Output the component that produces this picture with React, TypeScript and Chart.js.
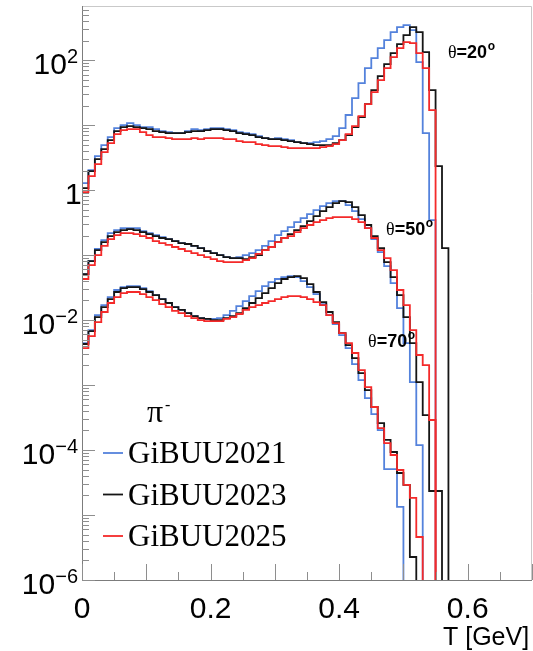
import React, { useEffect, useRef } from "react";
import { Chart, registerables } from "chart.js";

Chart.register(...registerables);

// ---- axis / binning -------------------------------------------------------
const BIN_WIDTH_GEV = 0.01;
const X_MIN = 0;
const X_MAX = 0.7;
const Y_MIN = 1e-6;
const Y_MAX = 680;
const EMPTY_BIN = 1e-12; // empty bin (zero content), falls below the log axis

const X_TICK_VALUES = [0, 0.2, 0.4, 0.6];
const X_TICK_LABELS = ["0", "0.2", "0.4", "0.6"];
const Y_LABEL_EXPONENTS = [2, 0, -2, -4, -6];
const X_TITLE = "T [GeV]";
const PARTICLE = "π";

const MODEL_NAMES = ["GiBUU2021", "GiBUU2023", "GiBUU2025"];
const ANGLES = ["20", "50", "70"];

// ---- theta = 20 deg --------------------------------------------------------
const gibuu2021_theta20 = [
  0.70, 1.28, 2.03, 3.34, 4.92, 6.54, 8.99, 10.0, 10.7, 10.0,
  9.31, 9.31, 8.67, 8.09, 7.80, 7.53, 7.53, 8.09, 8.67, 8.38,
  8.67, 8.99, 8.99, 8.67, 8.38, 7.80, 7.53, 7.27, 6.77, 6.31,
  6.09, 6.31, 6.09, 5.88, 5.48, 5.28, 5.28, 5.48, 5.67, 6.09,
  6.77, 8.99, 14.3, 26.0, 44.3, 75.3, 107, 153, 203, 270,
  322, 345, 289, 93.1, 7.53, 0.345,
];
const gibuu2023_theta20 = [
  0.567, 1.07, 1.96, 3.0, 4.27, 5.88, 8.09, 9.31, 9.66, 9.31,
  8.99, 8.67, 8.09, 7.80, 7.53, 7.53, 7.53, 7.80, 8.09, 8.09,
  8.38, 8.67, 8.67, 8.38, 8.09, 7.53, 7.27, 7.02, 6.54, 6.31,
  6.09, 6.09, 5.88, 5.67, 5.48, 5.28, 5.10, 4.92, 4.92, 4.92,
  5.28, 5.88, 7.02, 9.31, 13.3, 21.0, 34.5, 56.7, 86.7, 128,
  176, 242, 322, 270, 133, 34.5, 2.34, 0.128,
];
const gibuu2025_theta20 = [
  0.475, 0.932, 1.64, 2.51, 3.84, 5.28, 7.27, 8.38, 8.67, 8.67,
  7.80, 7.02, 6.54, 6.54, 6.31, 6.09, 6.09, 6.09, 6.31, 6.09,
  6.31, 6.31, 6.31, 6.09, 6.09, 5.67, 5.48, 5.48, 5.10, 4.92,
  4.75, 4.75, 4.59, 4.43, 4.43, 4.43, 4.43, 4.43, 4.59, 4.75,
  5.10, 5.88, 7.27, 9.66, 13.7, 21.0, 32.2, 49.2, 75.3, 111,
  153, 189, 183, 128, 75.3, 17.0,
];

// ---- theta = 50 deg --------------------------------------------------------
const gibuu2021_theta50 = [
  0.0322, 0.0510, 0.0809, 0.124, 0.170, 0.218, 0.242, 0.260, 0.260, 0.260,
  0.234, 0.218, 0.203, 0.189, 0.176, 0.164, 0.153, 0.148, 0.138, 0.128,
  0.115, 0.107, 0.100, 0.0932, 0.0899, 0.0932, 0.100, 0.107, 0.119, 0.138,
  0.164, 0.203, 0.234, 0.270, 0.322, 0.371, 0.427, 0.492, 0.567, 0.631,
  0.677, 0.677, 0.588, 0.475, 0.358, 0.260, 0.176, 0.111, 0.0677, 0.0371,
  0.0153, 0.00443, 0.00111, 0.000119,
];
const gibuu2023_theta50 = [
  0.0311, 0.0510, 0.0809, 0.119, 0.158, 0.196, 0.226, 0.242, 0.251, 0.242,
  0.226, 0.210, 0.196, 0.183, 0.176, 0.164, 0.153, 0.148, 0.138, 0.128,
  0.115, 0.107, 0.100, 0.0932, 0.0899, 0.0899, 0.0868, 0.0932, 0.100, 0.119,
  0.133, 0.158, 0.183, 0.210, 0.242, 0.279, 0.333, 0.398, 0.475, 0.548,
  0.631, 0.677, 0.653, 0.548, 0.413, 0.290, 0.196, 0.128, 0.0780, 0.0459,
  0.0242, 0.0111, 0.00443, 0.00111, 0.000345, 0.0000234, 0.0000234,
];
const gibuu2025_theta50 = [
  0.0251, 0.0428, 0.0702, 0.100, 0.138, 0.176, 0.203, 0.218, 0.218, 0.210,
  0.196, 0.183, 0.164, 0.153, 0.143, 0.133, 0.124, 0.115, 0.107, 0.100,
  0.0932, 0.0868, 0.0809, 0.0780, 0.0780, 0.0780, 0.0838, 0.0899, 0.104, 0.119,
  0.133, 0.158, 0.183, 0.196, 0.226, 0.260, 0.290, 0.322, 0.345, 0.371,
  0.384, 0.384, 0.384, 0.358, 0.322, 0.260, 0.183, 0.119, 0.0899, 0.0588,
  0.0290, 0.0170, 0.00702, 0.00290, 0.00203, 0.000290,
];

// ---- theta = 70 deg --------------------------------------------------------
const gibuu2021_theta70 = [
  0.00203, 0.00443, 0.00702, 0.0119, 0.0170, 0.0226, 0.0290, 0.0322, 0.0333, 0.0333,
  0.0311, 0.0279, 0.0242, 0.0210, 0.0183, 0.0158, 0.0143, 0.0128, 0.0115, 0.0107,
  0.0104, 0.0104, 0.0107, 0.0119, 0.0138, 0.0164, 0.0196, 0.0234, 0.0279, 0.0333,
  0.0384, 0.0428, 0.0459, 0.0475, 0.0459, 0.0398, 0.0322, 0.0251, 0.0176, 0.0119,
  0.00868, 0.00588, 0.00371, 0.00210, 0.00119, 0.000631, 0.000358, 0.000203, 0.0000510, 0.0000510,
  0.0000133,
];
const gibuu2023_theta70 = [
  0.00164, 0.00428, 0.00677, 0.0111, 0.0158, 0.0210, 0.0270, 0.0311, 0.0322, 0.0322,
  0.0300, 0.0270, 0.0242, 0.0210, 0.0183, 0.0158, 0.0143, 0.0128, 0.0115, 0.0107,
  0.0104, 0.0100, 0.0100, 0.0107, 0.0115, 0.0128, 0.0153, 0.0183, 0.0218, 0.0260,
  0.0311, 0.0371, 0.0428, 0.0459, 0.0475, 0.0443, 0.0358, 0.0270, 0.0189, 0.0133,
  0.00932, 0.00631, 0.00412, 0.00260, 0.00153, 0.000838, 0.000459, 0.000260, 0.000143, 0.0000932,
  0.0000443, 0.0000290, 0.00000226,
];
const gibuu2025_theta70 = [
  0.00153, 0.00371, 0.00567, 0.00932, 0.0133, 0.0183, 0.0226, 0.0260, 0.0270, 0.0270,
  0.0251, 0.0226, 0.0203, 0.0176, 0.0158, 0.0138, 0.0128, 0.0115, 0.0107, 0.0100,
  0.00966, 0.00966, 0.00966, 0.0104, 0.0111, 0.0124, 0.0143, 0.0158, 0.0170, 0.0183,
  0.0196, 0.0210, 0.0226, 0.0234, 0.0234, 0.0226, 0.0210, 0.0189, 0.0170, 0.0119,
  0.00899, 0.00631, 0.00443, 0.00311, 0.00170, 0.000932, 0.000459, 0.000218, 0.000128, 0.0000838,
  0.0000493, 0.0000290, 0.0000183, 0.00000459,
];

const HISTOGRAMS = [
  [gibuu2021_theta20, gibuu2023_theta20, gibuu2025_theta20],
  [gibuu2021_theta50, gibuu2023_theta50, gibuu2025_theta50],
  [gibuu2021_theta70, gibuu2023_theta70, gibuu2025_theta70],
];

// ---- styles / annotation placement (data units) ----------------------------
const MODEL_COLORS = ["#5482dc", "#151515", "#f42a2a"];
const MODEL_DRAW_ORDER = [2, 1, 0]; // red on top
const LINE_WIDTH = 1.8;
const ANGLE_LABEL_POS = [
  { x: 0.5693, y: 107 },
  { x: 0.4729, y: 0.203 },
  { x: 0.4449, y: 0.00385 },
];

const SANS = "'Liberation Sans', Arial, Helvetica, sans-serif";
const SERIF = "'Liberation Serif', 'Times New Roman', serif";

function histogramPoints(values: number[]) {
  const pts = values.map((v, i) => ({ x: i * BIN_WIDTH_GEV, y: v }));
  pts.push({ x: values.length * BIN_WIDTH_GEV, y: EMPTY_BIN });
  return pts;
}

const rootStylePlugin = {
  id: "rootStyle",
  afterDraw(chart: any) {
    const { ctx, chartArea: a, scales } = chart;
    const xs = scales.x;
    const ys = scales.y;
    ctx.save();

    // frame (top / right)
    ctx.lineWidth = 1;
    ctx.strokeStyle = "#c9c9c9";
    ctx.beginPath();
    ctx.moveTo(a.left, a.top + 0.5);
    ctx.lineTo(a.right - 0.5, a.top + 0.5);
    ctx.lineTo(a.right - 0.5, a.bottom);
    ctx.stroke();

    // axes
    ctx.strokeStyle = "#7c7c7c";
    ctx.beginPath();
    ctx.moveTo(a.left + 0.5, a.top);
    ctx.lineTo(a.left + 0.5, a.bottom + 0.5);
    ctx.lineTo(a.right, a.bottom + 0.5);
    ctx.stroke();

    // ticks
    ctx.strokeStyle = "#8e8e8e";
    ctx.beginPath();
    for (let e = -6; e <= 2; e++) {
      for (let m = 1; m <= 9; m++) {
        const v = m * Math.pow(10, e);
        if (v > ys.max) break;
        const py = Math.round(ys.getPixelForValue(v)) + 0.5;
        const len = m === 1 ? 13 : 7;
        ctx.moveTo(a.left, py);
        ctx.lineTo(a.left + len, py);
      }
    }
    for (let k = 0; k * 0.05 <= X_MAX + 1e-9; k++) {
      const px = Math.round(xs.getPixelForValue(k * 0.05)) + 0.5;
      const len = k % 2 === 0 ? 16 : 8;
      ctx.moveTo(px, a.bottom);
      ctx.lineTo(px, a.bottom - len);
    }
    ctx.stroke();

    // y labels
    ctx.fillStyle = "#000";
    ctx.textBaseline = "alphabetic";
    const right = a.left - 4;
    for (const e of Y_LABEL_EXPONENTS) {
      const base = ys.getPixelForValue(Math.pow(10, e)) + 14;
      if (e === 0) {
        ctx.font = `30px ${SANS}`;
        ctx.textAlign = "left";
        ctx.fillText("1", right - 13, base);
      } else {
        const sup = e < 0 ? "\u2212" + Math.abs(e) : String(e);
        ctx.font = `20px ${SANS}`;
        ctx.textAlign = "right";
        ctx.fillText(sup, right, base - 11);
        const w = ctx.measureText(sup).width;
        ctx.font = `30px ${SANS}`;
        ctx.fillText("10", right - w, base);
      }
    }

    // x labels
    ctx.font = `30px ${SANS}`;
    ctx.textAlign = "center";
    X_TICK_VALUES.forEach((v, i) => {
      ctx.fillText(X_TICK_LABELS[i], xs.getPixelForValue(v), a.bottom + 38);
    });
    ctx.font = `25px ${SANS}`;
    ctx.textAlign = "left";
    ctx.fillText(X_TITLE, 443, 645);

    // angle labels
    ANGLES.forEach((ang, i) => {
      const px = xs.getPixelForValue(ANGLE_LABEL_POS[i].x);
      const py = ys.getPixelForValue(ANGLE_LABEL_POS[i].y);
      ctx.textAlign = "left";
      ctx.font = `18px ${SERIF}`;
      ctx.fillText("θ", px, py);
      const w1 = ctx.measureText("θ").width;
      ctx.font = `bold 18px ${SANS}`;
      const txt = "=" + ang;
      ctx.fillText(txt, px + w1, py);
      const w2 = ctx.measureText(txt).width;
      ctx.font = `bold 12px ${SANS}`;
      ctx.fillText("o", px + w1 + w2 + 0.5, py - 8);
    });

    // legend
    ctx.textAlign = "left";
    ctx.font = `32px ${SERIF}`;
    ctx.fillText(PARTICLE, 147, 422);
    ctx.font = `16px ${SERIF}`;
    ctx.fillText("-", 165, 410);
    MODEL_NAMES.forEach((name, i) => {
      const base = 463 + i * 41.5;
      ctx.strokeStyle = MODEL_COLORS[i];
      ctx.lineWidth = LINE_WIDTH;
      ctx.beginPath();
      ctx.moveTo(103, base - 10);
      ctx.lineTo(123, base - 10);
      ctx.stroke();
      ctx.font = `31px ${SERIF}`;
      ctx.fillStyle = "#000";
      ctx.fillText(name, 128, base);
    });

    ctx.restore();
  },
};

export default function App() {
  const canvasRef = useRef<HTMLCanvasElement | null>(null);

  useEffect(() => {
    const canvas = canvasRef.current;
    if (!canvas) return;
    const datasets: any[] = [];
    HISTOGRAMS.forEach((group, a) => {
      group.forEach((values, m) => {
        datasets.push({
          label: `${MODEL_NAMES[m]} θ=${ANGLES[a]}°`,
          data: histogramPoints(values),
          stepped: "after",
          borderColor: MODEL_COLORS[m],
          borderWidth: LINE_WIDTH,
          pointRadius: 0,
          fill: false,
          tension: 0,
          order: MODEL_DRAW_ORDER[m],
        });
      });
    });
    const chart = new Chart(canvas, {
      type: "line",
      data: { datasets },
      options: {
        animation: false,
        responsive: false,
        devicePixelRatio: 1,
        layout: { padding: { left: 82, right: 1, top: 6, bottom: 71 } },
        scales: {
          x: { type: "linear", min: X_MIN, max: X_MAX, display: false },
          y: { type: "logarithmic", min: Y_MIN, max: Y_MAX, display: false },
        },
        plugins: { legend: { display: false }, tooltip: { enabled: false } },
        elements: { point: { radius: 0 } },
      },
      plugins: [rootStylePlugin],
    } as any);
    return () => chart.destroy();
  }, []);

  return (
    <div style={{ position: "absolute", left: 0, top: 0, width: 533, height: 651, background: "#fff" }}>
      <canvas ref={canvasRef} width={533} height={651} style={{ display: "block", width: 533, height: 651 }} />
    </div>
  );
}
